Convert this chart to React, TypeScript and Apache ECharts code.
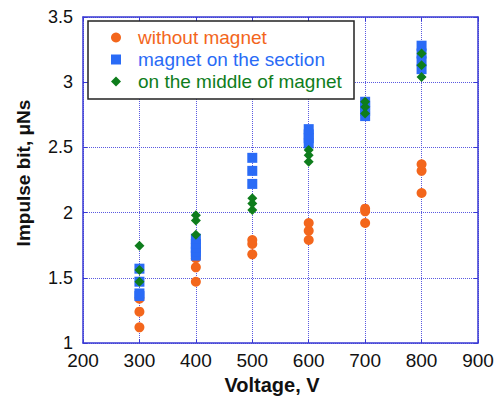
import React, { useEffect, useRef } from "react";
import * as echarts from "echarts";

const xTicks = { min: 200, max: 900, interval: 100 };
const yTicks = { min: 1, max: 3.5, interval: 0.5 };

const seriesNames = ["without magnet", "magnet on the section", "on the middle of magnet"];

const withoutMagnet: [number, number][] = [
  [300, 1.12], [300, 1.24], [300, 1.34],
  [400, 1.47], [400, 1.58], [400, 1.65],
  [500, 1.68], [500, 1.76], [500, 1.79],
  [600, 1.79], [600, 1.86], [600, 1.92],
  [700, 1.92], [700, 2.01], [700, 2.03],
  [800, 2.15], [800, 2.32], [800, 2.37],
];

const magnetOnSection: [number, number][] = [
  [300, 1.36], [300, 1.38], [300, 1.47], [300, 1.57],
  [400, 1.67], [400, 1.7], [400, 1.73], [400, 1.76], [400, 1.8],
  [500, 2.22], [500, 2.32], [500, 2.42],
  [600, 2.53], [600, 2.57], [600, 2.6], [600, 2.64],
  [700, 2.74], [700, 2.78], [700, 2.82], [700, 2.85],
  [800, 3.1], [800, 3.16], [800, 3.22], [800, 3.28],
];

const middleOfMagnet: [number, number][] = [
  [300, 1.47], [300, 1.56], [300, 1.745],
  [400, 1.83], [400, 1.94], [400, 1.98],
  [500, 2.02], [500, 2.07], [500, 2.11],
  [600, 2.39], [600, 2.44], [600, 2.48],
  [700, 2.76], [700, 2.81], [700, 2.85],
  [800, 3.04], [800, 3.13], [800, 3.22],
];

const FONT = "Liberation Sans, Arial, sans-serif";
const FRAME = "#3a3ad4";
const GRIDC = "#5a5ae0";
const ORANGE = "#f3661c";
const BLUE = "#2a6bf6";
const GREEN = "#0e7d1c";

export default function App() {
  const ref = useRef<HTMLDivElement>(null);
  useEffect(() => {
    document.body.style.margin = "0";
    const chart = echarts.init(ref.current!, null, { renderer: "svg" });
    const axisCommon = {
      axisLine: { show: true, lineStyle: { color: FRAME, width: 1.5 } },
      axisTick: { show: true, inside: true, length: 4, lineStyle: { color: FRAME, width: 1 } },
    };
    chart.setOption({
      animation: false,
      backgroundColor: "#fff",
      grid: { left: 83, right: 24, top: 17, bottom: 53, containLabel: false },
      xAxis: [
        {
          type: "value",
          min: xTicks.min,
          max: xTicks.max,
          interval: xTicks.interval,
          position: "bottom",
          ...axisCommon,
          axisLabel: { color: "#111", fontSize: 19, fontFamily: FONT, margin: 8 },
          splitLine: { show: true, lineStyle: { color: GRIDC, type: "dotted", width: 1 } },
        },
        {
          type: "value",
          min: xTicks.min,
          max: xTicks.max,
          interval: xTicks.interval,
          position: "top",
          ...axisCommon,
          axisLabel: { show: false },
          splitLine: { show: false },
        },
      ],
      yAxis: [
        {
          type: "value",
          min: yTicks.min,
          max: yTicks.max,
          interval: yTicks.interval,
          position: "left",
          ...axisCommon,
          axisLabel: { color: "#111", fontSize: 18, fontFamily: FONT, margin: 10 },
          splitLine: { show: true, lineStyle: { color: GRIDC, type: "dotted", width: 1 } },
        },
        {
          type: "value",
          min: yTicks.min,
          max: yTicks.max,
          interval: yTicks.interval,
          position: "right",
          ...axisCommon,
          axisLabel: { show: false },
          splitLine: { show: false },
        },
      ],
      legend: {
        orient: "vertical",
        left: 111,
        top: 28,
        padding: 0,
        itemWidth: 10,
        itemHeight: 10,
        itemGap: 3,
        textStyle: { fontSize: 19, fontFamily: FONT, padding: [0, 0, 0, 12] },
        data: [
          { name: seriesNames[0], icon: "circle", itemStyle: { opacity: 1 }, textStyle: { color: ORANGE } },
          { name: seriesNames[1], icon: "rect", itemStyle: { opacity: 1 }, textStyle: { color: BLUE } },
          { name: seriesNames[2], icon: "diamond", itemStyle: { opacity: 1 }, textStyle: { color: GREEN } },
        ],
      },
      graphic: [
        {
          type: "rect",
          z: 3,
          shape: { x: 88, y: 21, width: 266, height: 78 },
          style: { fill: "#fff", stroke: "#222", lineWidth: 1.5 },
        },
        {
          type: "text",
          x: 272,
          y: 385,
          style: {
            text: "Voltage, V",
            font: `bold 20px ${FONT}`,
            fill: "#111",
            textAlign: "center",
            textVerticalAlign: "middle",
          },
        },
        {
          type: "text",
          x: 23,
          y: 173,
          rotation: Math.PI / 2,
          style: {
            text: "Impulse bit, μNs",
            font: `bold 19px ${FONT}`,
            fill: "#111",
            textAlign: "center",
            textVerticalAlign: "middle",
          },
        },
      ],
      series: [
        {
          name: seriesNames[0],
          type: "scatter",
          symbol: "circle",
          symbolSize: 10,
          itemStyle: { color: ORANGE, opacity: 1 },
          data: withoutMagnet,
          z: 2,
        },
        {
          name: seriesNames[1],
          type: "scatter",
          symbol: "rect",
          symbolSize: 10,
          itemStyle: { color: BLUE, opacity: 1 },
          data: magnetOnSection,
          z: 3,
        },
        {
          name: seriesNames[2],
          type: "scatter",
          symbol: "diamond",
          symbolSize: 10,
          itemStyle: { color: GREEN, opacity: 1 },
          data: middleOfMagnet,
          z: 4,
        },
      ],
    });
    return () => chart.dispose();
  }, []);
  return <div ref={ref} style={{ width: 502, height: 396, position: "absolute", left: 0, top: 0 }} />;
}
